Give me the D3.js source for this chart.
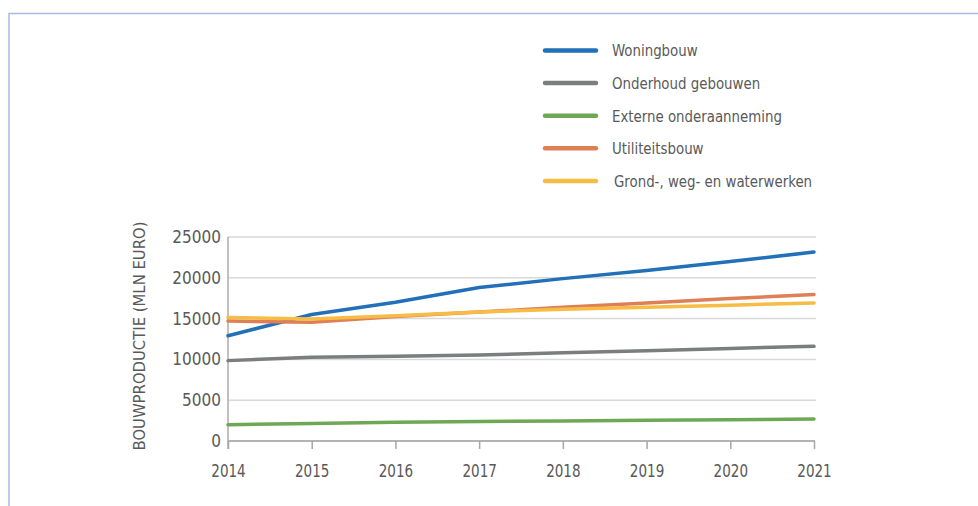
<!DOCTYPE html>
<html>
<head>
<meta charset="utf-8">
<script src="https://cdn.jsdelivr.net/npm/d3@7"></script>
<style>
  html, body { margin: 0; padding: 0; background: #fff; }
  svg { display: block; }
  text { font-family: "DejaVu Sans Condensed", "DejaVu Sans", sans-serif; font-stretch: condensed; fill: #595959; }
</style>
</head>
<body>
<svg id="chart" width="978" height="506"></svg>
<script>
// Bouwproductie per sector, mln euro
const years = [2014, 2015, 2016, 2017, 2018, 2019, 2020, 2021];
const woningbouw = [12900, 15500, 17000, 18800, 19900, 20900, 22000, 23150];
const onderhoudGebouwen = [9850, 10250, 10400, 10550, 10800, 11050, 11350, 11600];
const externeOnderaanneming = [2000, 2150, 2300, 2400, 2450, 2550, 2600, 2700];
const utiliteitsbouw = [14700, 14550, 15250, 15800, 16400, 16900, 17450, 17950];
const gww = [15150, 14950, 15350, 15800, 16150, 16400, 16650, 16900];
const seriesNames = ["Woningbouw", "Onderhoud gebouwen", "Externe onderaanneming", "Utiliteitsbouw", "Grond-, weg- en waterwerken"];
const yTicks = [0, 5000, 10000, 15000, 20000, 25000];
const yTitle = "BOUWPRODUCTIE (MLN EURO)";

const colors = ["#2170b8", "#7b7d7e", "#6fa855", "#df7f55", "#f6bc45"];
const seriesValues = [woningbouw, onderhoudGebouwen, externeOnderaanneming, utiliteitsbouw, gww];

const svg = d3.select("#chart");

// outer frame
svg.append("path")
  .attr("d", "M9,506 V13.5 H978")
  .attr("fill", "none")
  .attr("stroke", "#a7bae3")
  .attr("stroke-width", 1.5);

const x = d3.scaleLinear().domain([2014, 2021]).range([228, 814]);
const y = d3.scaleLinear().domain([0, 25000]).range([441, 237]);

// horizontal gridlines
svg.append("g").selectAll("line")
  .data(yTicks.filter(d => d > 0))
  .join("line")
  .attr("x1", x(2014)).attr("x2", x(2021) + 2)
  .attr("y1", d => y(d)).attr("y2", d => y(d))
  .attr("stroke", "#d9d9d9")
  .attr("stroke-width", 1.5);

// vertical axis line
svg.append("line")
  .attr("x1", x(2014)).attr("x2", x(2014))
  .attr("y1", y(25000)).attr("y2", y(0) + 8)
  .attr("stroke", "#ababab")
  .attr("stroke-width", 1.5);

// y axis labels
const yAxis = svg.append("g")
  .attr("transform", `translate(${x(2014)},0)`)
  .call(d3.axisLeft(y).tickValues(yTicks).tickFormat(d3.format("d")).tickSize(0).tickPadding(7));
yAxis.select(".domain").remove();
yAxis.selectAll("text").style("font-size", "17px").attr("fill", "#595959");

// x axis
const xAxis = svg.append("g")
  .attr("transform", `translate(0,${y(0)})`)
  .call(d3.axisBottom(x).tickValues(years).tickFormat(d3.format("d")).tickSize(8).tickSizeOuter(0).tickPadding(16));
xAxis.select(".domain").attr("stroke", "#b3b3b3").attr("stroke-width", 2).attr("d", `M${x(2014)},0H${x(2021) + 1}`);
xAxis.selectAll(".tick line").attr("stroke", "#a6a6a6").attr("stroke-width", 1.5);
xAxis.selectAll("text")
  .style("font-size", "17.5px")
  .attr("dy", "0.68em")
  .attr("transform", "scale(0.86,1)")
  .attr("fill", "#595959");

// y axis title
svg.append("text")
  .attr("transform", "translate(139,336) rotate(-90)")
  .attr("text-anchor", "middle")
  .attr("dominant-baseline", "central")
  .style("font-size", "16.5px")
  .text(yTitle);

// series lines
const line = d3.line()
  .x((d, i) => x(years[i]))
  .y(d => y(d));

svg.append("g").selectAll("path")
  .data(seriesValues)
  .join("path")
  .attr("d", d => line(d))
  .attr("fill", "none")
  .attr("stroke", (d, i) => colors[i])
  .attr("stroke-width", 3.5)
  .attr("stroke-linecap", "round")
  .attr("stroke-linejoin", "round");

// legend
const legend = svg.append("g").attr("transform", "translate(545,50.5)");
const items = legend.selectAll("g")
  .data(seriesNames)
  .join("g")
  .attr("transform", (d, i) => `translate(0,${i * 32.6})`);
items.append("line")
  .attr("x1", 0).attr("x2", 51)
  .attr("y1", 0).attr("y2", 0)
  .attr("stroke", (d, i) => colors[i])
  .attr("stroke-width", 4.5)
  .attr("stroke-linecap", "round");
items.append("text")
  .attr("transform", (d, i) => `translate(${i === 4 ? 69 : 67},0) scale(0.9,1)`)
  .attr("dy", "0.36em")
  .style("font-size", "16.5px")
  .text(d => d);
</script>
</body>
</html>
